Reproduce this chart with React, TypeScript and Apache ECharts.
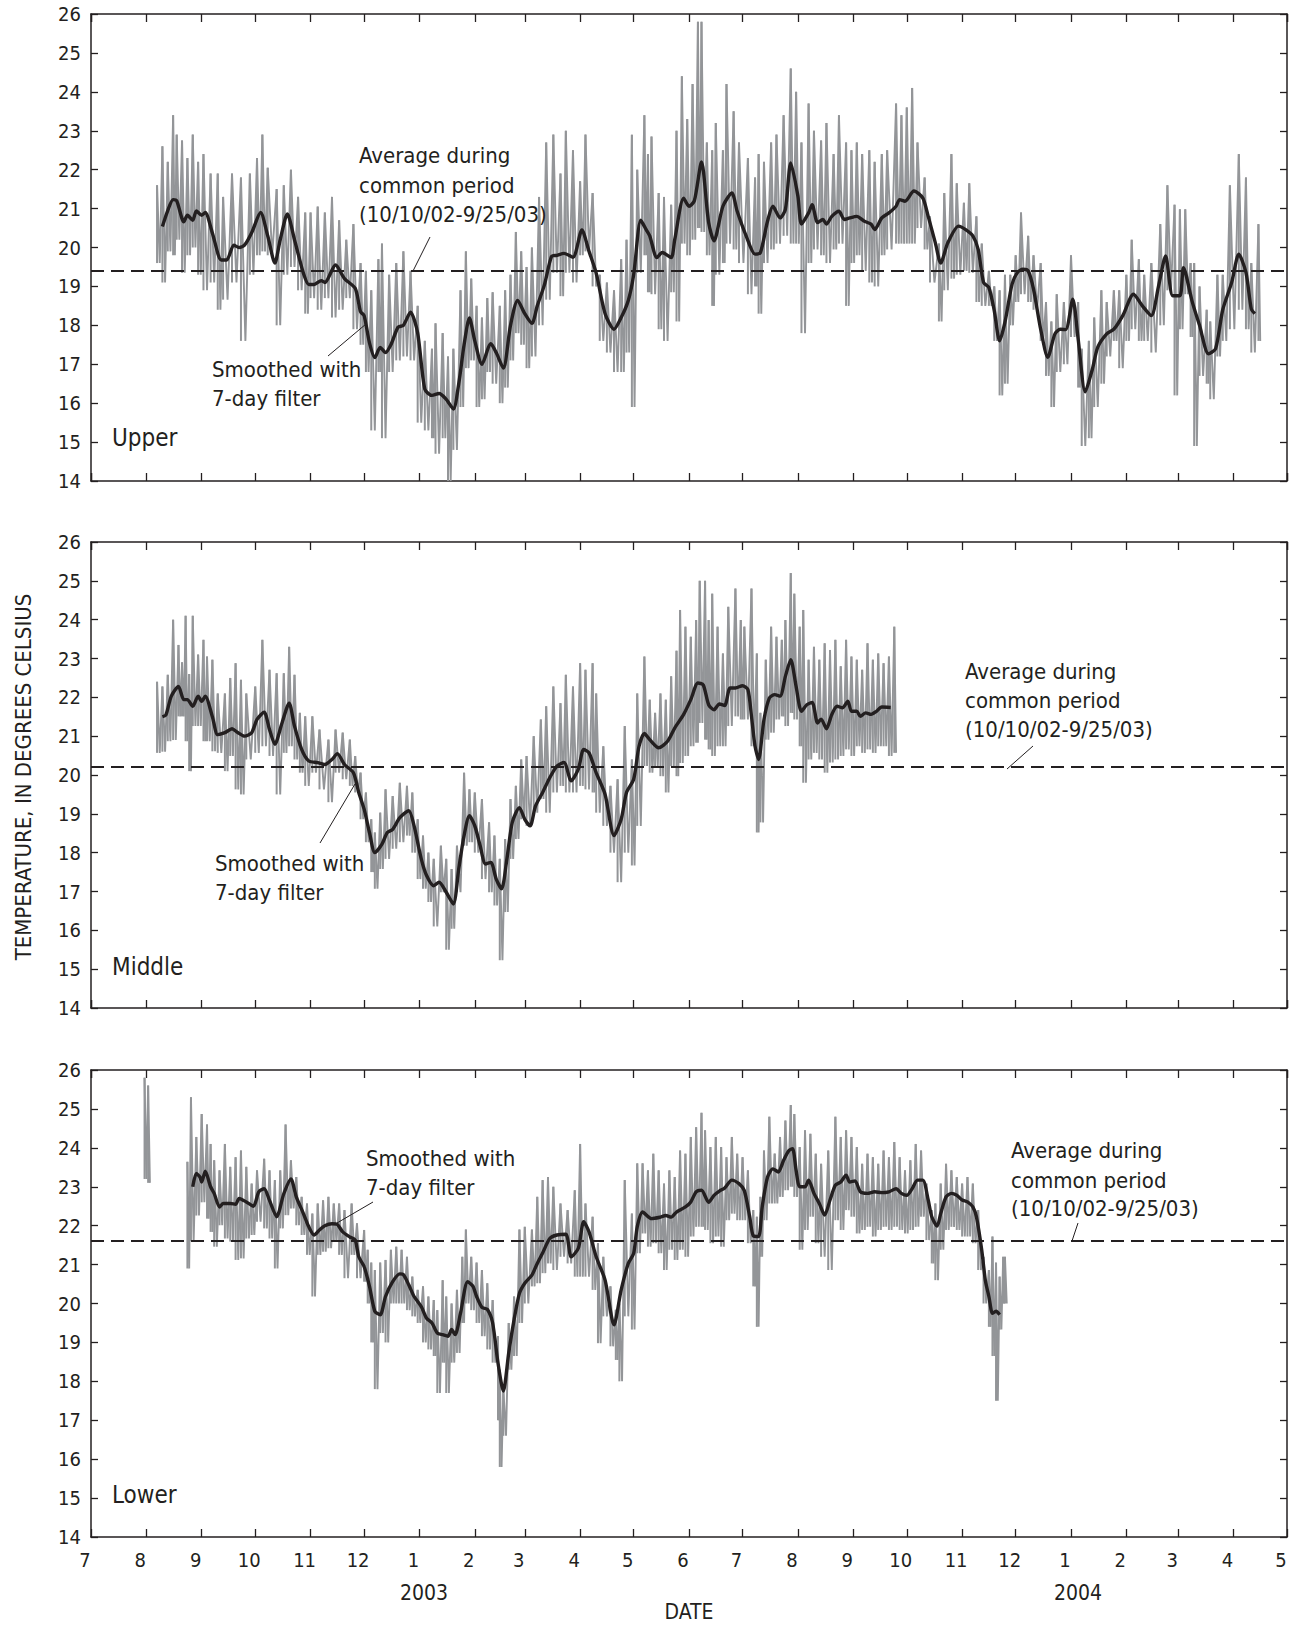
import React, { useEffect, useRef } from "react";
import * as echarts from "echarts";

const FONT = '"Liberation Sans Narrow", "DejaVu Sans Condensed", "Arial Narrow", sans-serif';
const X_MIN = "2002-07-01";
const X_MAX = "2004-05-01";
const Y_MIN = 14;
const Y_MAX = 26;
const Y_STEP = 1;

const panelNames = ["Upper", "Middle", "Lower"];
const averages = [19.4, 20.2, 21.6];
const yearLabels = ["2003", "2004"];

// ---------- Upper ----------
const upperSmooth: [string, number][] = [
  ["2002-08-10", 20.54], ["2002-08-13", 20.95], ["2002-08-16", 21.23], ["2002-08-18", 21.2], ["2002-08-22", 20.66],
  ["2002-08-24", 20.83], ["2002-08-27", 20.7], ["2002-08-29", 20.94], ["2002-09-01", 20.83], ["2002-09-03", 20.9],
  ["2002-09-07", 20.37], ["2002-09-12", 19.68], ["2002-09-15", 19.68], ["2002-09-19", 20.06], ["2002-09-22", 20.0],
  ["2002-09-25", 20.06], ["2002-09-29", 20.38], ["2002-10-04", 20.9], ["2002-10-08", 20.3], ["2002-10-12", 19.6],
  ["2002-10-15", 20.2], ["2002-10-19", 20.86], ["2002-10-23", 20.2], ["2002-10-28", 19.34], ["2002-10-31", 19.05],
  ["2002-11-03", 19.05], ["2002-11-07", 19.15], ["2002-11-09", 19.1], ["2002-11-15", 19.55], ["2002-11-20", 19.2],
  ["2002-11-26", 18.95], ["2002-11-29", 18.35], ["2002-12-01", 18.25], ["2002-12-04", 17.55], ["2002-12-07", 17.17],
  ["2002-12-10", 17.43], ["2002-12-13", 17.3], ["2002-12-16", 17.5], ["2002-12-20", 17.95], ["2002-12-23", 18.0],
  ["2002-12-27", 18.34], ["2002-12-31", 17.8], ["2003-01-04", 16.36], ["2003-01-08", 16.2], ["2003-01-12", 16.25],
  ["2003-01-16", 16.1], ["2003-01-20", 15.85], ["2003-01-23", 16.5], ["2003-01-26", 17.5], ["2003-01-29", 18.19],
  ["2003-02-01", 17.6], ["2003-02-05", 17.0], ["2003-02-10", 17.53], ["2003-02-13", 17.3], ["2003-02-17", 16.9],
  ["2003-02-21", 18.0], ["2003-02-25", 18.64], ["2003-03-01", 18.3], ["2003-03-05", 18.05], ["2003-03-08", 18.5],
  ["2003-03-12", 19.04], ["2003-03-16", 19.77], ["2003-03-19", 19.8], ["2003-03-23", 19.85], ["2003-03-28", 19.75],
  ["2003-04-02", 20.45], ["2003-04-06", 19.9], ["2003-04-10", 19.34], ["2003-04-15", 18.3], ["2003-04-20", 17.9],
  ["2003-04-24", 18.2], ["2003-04-28", 18.64], ["2003-05-01", 19.3], ["2003-05-05", 20.7], ["2003-05-08", 20.46],
  ["2003-05-10", 20.3], ["2003-05-14", 19.74], ["2003-05-17", 19.87], ["2003-05-22", 19.74], ["2003-05-24", 20.2],
  ["2003-05-29", 21.27], ["2003-06-01", 21.06], ["2003-06-04", 21.2], ["2003-06-08", 22.2], ["2003-06-12", 20.64],
  ["2003-06-15", 20.17], ["2003-06-20", 21.06], ["2003-06-25", 21.4], ["2003-06-28", 20.93], ["2003-07-03", 20.3],
  ["2003-07-08", 19.83], ["2003-07-11", 19.87], ["2003-07-15", 20.68], ["2003-07-18", 21.06], ["2003-07-22", 20.76],
  ["2003-07-25", 20.98], ["2003-07-28", 22.17], ["2003-08-01", 21.32], ["2003-08-03", 20.6], ["2003-08-07", 20.89],
  ["2003-08-09", 21.1], ["2003-08-12", 20.64], ["2003-08-15", 20.72], ["2003-08-17", 20.6], ["2003-08-20", 20.8],
  ["2003-08-24", 20.93], ["2003-08-27", 20.72], ["2003-08-30", 20.76], ["2003-09-03", 20.8], ["2003-09-07", 20.68],
  ["2003-09-11", 20.6], ["2003-09-13", 20.46], ["2003-09-17", 20.76], ["2003-09-21", 20.89], ["2003-09-25", 21.06],
  ["2003-09-27", 21.23], ["2003-09-30", 21.19], ["2003-10-05", 21.45], ["2003-10-10", 21.27], ["2003-10-13", 20.8],
  ["2003-10-17", 20.12], ["2003-10-20", 19.6], ["2003-10-24", 20.12], ["2003-10-30", 20.55], ["2003-11-03", 20.46],
  ["2003-11-07", 20.3], ["2003-11-10", 19.95], ["2003-11-13", 19.1], ["2003-11-16", 18.97], ["2003-11-19", 18.38],
  ["2003-11-22", 17.6], ["2003-11-25", 18.08], ["2003-11-29", 19.06], ["2003-12-02", 19.36], ["2003-12-05", 19.44],
  ["2003-12-08", 19.4], ["2003-12-11", 18.93], ["2003-12-15", 17.9], ["2003-12-19", 17.18], ["2003-12-23", 17.78],
  ["2003-12-26", 17.9], ["2003-12-29", 17.89], ["2004-01-02", 18.67], ["2004-01-05", 17.65], ["2004-01-09", 16.29],
  ["2004-01-13", 16.88], ["2004-01-16", 17.44], ["2004-01-21", 17.78], ["2004-01-25", 17.9], ["2004-01-30", 18.25],
  ["2004-02-05", 18.8], ["2004-02-10", 18.5], ["2004-02-15", 18.25], ["2004-02-19", 19.0], ["2004-02-23", 19.78],
  ["2004-02-27", 18.76], ["2004-03-02", 18.76], ["2004-03-04", 19.48], ["2004-03-09", 18.59], ["2004-03-13", 18.0],
  ["2004-03-18", 17.27], ["2004-03-22", 17.4], ["2004-03-26", 18.4], ["2004-03-31", 19.1], ["2004-04-04", 19.83],
  ["2004-04-08", 19.36], ["2004-04-11", 18.42], ["2004-04-13", 18.3],
];

// [date, daily-range high, daily-range low]
const upperRaw: [string, number, number][] = [
  ["2002-08-07", 21.6, 19.6], ["2002-08-10", 22.6, 19.1], ["2002-08-13", 22.2, 19.9], ["2002-08-16", 23.4, 19.8],
  ["2002-08-18", 22.9, 20.2], ["2002-08-21", 22.75, 19.35], ["2002-08-24", 22.3, 19.8], ["2002-08-27", 22.9, 20.0],
  ["2002-08-30", 22.2, 19.3], ["2002-09-02", 22.4, 18.9], ["2002-09-06", 21.9, 19.1], ["2002-09-10", 21.9, 18.4],
  ["2002-09-13", 21.3, 18.66], ["2002-09-18", 21.9, 19.1], ["2002-09-23", 21.8, 17.6], ["2002-09-28", 21.9, 19.3],
  ["2002-10-02", 22.3, 19.8], ["2002-10-05", 22.9, 19.9], ["2002-10-08", 22.05, 19.8], ["2002-10-13", 21.5, 18.0],
  ["2002-10-17", 21.6, 19.3], ["2002-10-21", 22.0, 19.5], ["2002-10-25", 21.3, 18.9], ["2002-10-29", 20.9, 18.3],
  ["2002-11-01", 20.9, 18.7], ["2002-11-05", 21.05, 18.4], ["2002-11-09", 20.9, 18.7], ["2002-11-13", 21.3, 18.2],
  ["2002-11-17", 20.7, 18.4], ["2002-11-21", 20.2, 18.7], ["2002-11-25", 20.6, 17.9], ["2002-11-29", 19.6, 17.5],
  ["2002-12-02", 19.4, 16.8], ["2002-12-05", 18.9, 15.3], ["2002-12-09", 19.7, 16.8], ["2002-12-11", 20.1, 15.1],
  ["2002-12-15", 19.3, 16.8], ["2002-12-19", 19.6, 17.1], ["2002-12-23", 19.9, 17.2], ["2002-12-27", 19.4, 17.1],
  ["2002-12-31", 18.5, 15.5], ["2003-01-04", 17.6, 15.3], ["2003-01-08", 17.4, 15.1], ["2003-01-10", 18.05, 14.7],
  ["2003-01-14", 17.8, 15.1], ["2003-01-17", 17.2, 14.0], ["2003-01-20", 17.4, 14.8], ["2003-01-24", 18.9, 15.9],
  ["2003-01-27", 19.9, 16.9], ["2003-01-30", 19.2, 17.1], ["2003-02-02", 18.5, 15.9], ["2003-02-05", 18.2, 16.1],
  ["2003-02-08", 18.7, 16.8], ["2003-02-11", 18.85, 16.5], ["2003-02-15", 18.5, 16.0], ["2003-02-18", 18.9, 16.4],
  ["2003-02-21", 19.3, 17.1], ["2003-02-24", 20.4, 17.8], ["2003-02-27", 19.9, 17.5], ["2003-03-02", 19.5, 16.9],
  ["2003-03-05", 20.0, 17.2], ["2003-03-09", 21.3, 18.0], ["2003-03-13", 22.7, 18.66], ["2003-03-17", 22.9, 19.35],
  ["2003-03-21", 21.9, 18.75], ["2003-03-24", 23.0, 19.35], ["2003-03-28", 22.5, 19.1], ["2003-04-01", 21.7, 19.8],
  ["2003-04-04", 22.9, 19.9], ["2003-04-08", 21.4, 19.0], ["2003-04-12", 19.3, 17.6], ["2003-04-16", 19.1, 17.3],
  ["2003-04-20", 18.9, 16.8], ["2003-04-24", 19.7, 16.8], ["2003-04-27", 20.2, 17.3], ["2003-04-30", 22.9, 15.9],
  ["2003-05-03", 22.0, 19.35], ["2003-05-07", 23.4, 19.8], ["2003-05-09", 22.4, 18.85], ["2003-05-11", 22.85, 18.8],
  ["2003-05-15", 21.4, 17.9], ["2003-05-18", 21.3, 17.6], ["2003-05-22", 21.1, 18.85], ["2003-05-25", 23.0, 18.1],
  ["2003-05-28", 24.4, 20.1], ["2003-05-31", 23.3, 19.8], ["2003-06-03", 24.2, 20.2], ["2003-06-06", 25.8, 20.5],
  ["2003-06-08", 25.8, 20.4], ["2003-06-11", 22.7, 19.8], ["2003-06-14", 22.5, 18.5], ["2003-06-16", 23.2, 19.3],
  ["2003-06-20", 22.5, 19.6], ["2003-06-22", 24.2, 20.1], ["2003-06-26", 23.5, 19.95], ["2003-06-29", 22.7, 19.6],
  ["2003-07-04", 22.3, 18.8], ["2003-07-08", 21.8, 19.0], ["2003-07-10", 22.4, 18.3], ["2003-07-13", 22.2, 19.6],
  ["2003-07-17", 22.7, 19.95], ["2003-07-20", 22.9, 20.1], ["2003-07-24", 23.4, 20.3], ["2003-07-28", 24.6, 20.1],
  ["2003-07-31", 24.0, 20.1], ["2003-08-03", 22.7, 17.8], ["2003-08-07", 23.7, 19.6], ["2003-08-10", 23.0, 19.95],
  ["2003-08-14", 22.75, 19.8], ["2003-08-17", 23.2, 19.6], ["2003-08-21", 22.4, 19.95], ["2003-08-24", 23.4, 20.1],
  ["2003-08-28", 22.7, 18.5], ["2003-08-31", 22.5, 19.6], ["2003-09-03", 22.7, 19.8], ["2003-09-06", 22.4, 19.4],
  ["2003-09-10", 22.5, 19.1], ["2003-09-13", 22.2, 19.0], ["2003-09-17", 22.4, 19.8], ["2003-09-20", 22.5, 19.95],
  ["2003-09-25", 23.7, 20.1], ["2003-09-28", 23.4, 20.1], ["2003-10-01", 23.6, 20.1], ["2003-10-04", 24.1, 20.1],
  ["2003-10-07", 22.7, 20.5], ["2003-10-11", 21.8, 19.95], ["2003-10-14", 20.8, 19.1], ["2003-10-19", 20.1, 18.1],
  ["2003-10-22", 21.4, 18.9], ["2003-10-26", 22.4, 19.2], ["2003-10-29", 21.65, 19.3], ["2003-11-02", 21.15, 19.4],
  ["2003-11-05", 21.65, 19.35], ["2003-11-09", 20.8, 18.6], ["2003-11-12", 20.1, 18.5], ["2003-11-16", 19.4, 18.5],
  ["2003-11-19", 19.0, 17.6], ["2003-11-22", 18.9, 16.2], ["2003-11-25", 19.3, 16.5], ["2003-11-28", 19.3, 18.0],
  ["2003-12-01", 19.8, 18.6], ["2003-12-04", 20.9, 18.8], ["2003-12-08", 20.3, 18.6], ["2003-12-11", 19.8, 18.4],
  ["2003-12-15", 19.6, 17.6], ["2003-12-18", 18.6, 16.7], ["2003-12-21", 18.1, 15.9], ["2003-12-24", 18.8, 16.8],
  ["2003-12-28", 18.6, 17.0], ["2004-01-01", 19.8, 17.7], ["2004-01-05", 18.6, 16.4], ["2004-01-07", 17.4, 14.9],
  ["2004-01-11", 17.6, 15.1], ["2004-01-14", 18.2, 15.9], ["2004-01-18", 18.9, 16.5], ["2004-01-21", 18.6, 17.2],
  ["2004-01-25", 18.9, 17.6], ["2004-01-28", 18.9, 16.9], ["2004-02-01", 19.3, 17.6], ["2004-02-04", 20.2, 17.9],
  ["2004-02-08", 19.7, 17.6], ["2004-02-11", 19.3, 17.6], ["2004-02-15", 19.6, 17.3], ["2004-02-20", 20.6, 18.0],
  ["2004-02-24", 21.6, 18.9], ["2004-02-28", 21.1, 16.2], ["2004-03-02", 20.98, 17.9], ["2004-03-05", 20.98, 18.8],
  ["2004-03-08", 19.6, 17.7], ["2004-03-10", 19.6, 14.9], ["2004-03-13", 19.0, 16.7], ["2004-03-17", 18.4, 16.5],
  ["2004-03-19", 18.1, 16.1], ["2004-03-23", 19.3, 17.2], ["2004-03-26", 19.3, 17.6], ["2004-03-30", 21.6, 17.9],
  ["2004-04-04", 22.4, 18.4], ["2004-04-08", 21.8, 17.9], ["2004-04-11", 19.6, 17.3], ["2004-04-15", 20.6, 17.6],
];

// ---------- Middle ----------
const middleSmooth: [string, number][] = [
  ["2002-08-10", 21.5], ["2002-08-12", 21.55], ["2002-08-15", 22.03], ["2002-08-19", 22.28], ["2002-08-22", 21.94],
  ["2002-08-24", 21.94], ["2002-08-27", 21.77], ["2002-08-30", 22.03], ["2002-09-01", 21.9], ["2002-09-03", 22.03],
  ["2002-09-07", 21.5], ["2002-09-10", 21.04], ["2002-09-14", 21.09], ["2002-09-18", 21.19], ["2002-09-21", 21.1],
  ["2002-09-25", 21.0], ["2002-09-29", 21.09], ["2002-10-02", 21.43], ["2002-10-06", 21.62], ["2002-10-09", 21.17],
  ["2002-10-12", 20.79], ["2002-10-16", 21.34], ["2002-10-20", 21.85], ["2002-10-23", 21.26], ["2002-10-27", 20.66],
  ["2002-10-31", 20.36], ["2002-11-05", 20.32], ["2002-11-09", 20.27], ["2002-11-13", 20.4], ["2002-11-16", 20.55],
  ["2002-11-20", 20.27], ["2002-11-25", 20.06], ["2002-11-28", 19.55], ["2002-12-01", 19.12], ["2002-12-04", 18.52],
  ["2002-12-07", 18.0], ["2002-12-11", 18.22], ["2002-12-14", 18.52], ["2002-12-17", 18.6], ["2002-12-21", 18.9],
  ["2002-12-26", 19.08], ["2002-12-29", 18.69], ["2003-01-02", 17.84], ["2003-01-05", 17.41], ["2003-01-09", 17.15],
  ["2003-01-12", 17.24], ["2003-01-16", 16.98], ["2003-01-20", 16.68], ["2003-01-23", 17.58], ["2003-01-26", 18.44],
  ["2003-01-29", 18.95], ["2003-02-01", 18.69], ["2003-02-04", 18.18], ["2003-02-07", 17.71], ["2003-02-10", 17.75],
  ["2003-02-13", 17.32], ["2003-02-16", 17.07], ["2003-02-19", 17.84], ["2003-02-22", 18.78], ["2003-02-26", 19.16],
  ["2003-03-01", 18.86], ["2003-03-04", 18.69], ["2003-03-07", 19.2], ["2003-03-11", 19.55], ["2003-03-15", 19.93],
  ["2003-03-19", 20.23], ["2003-03-23", 20.32], ["2003-03-27", 19.85], ["2003-03-31", 20.15], ["2003-04-03", 20.66],
  ["2003-04-06", 20.57], ["2003-04-10", 20.06], ["2003-04-15", 19.5], ["2003-04-20", 18.44], ["2003-04-24", 18.86],
  ["2003-04-27", 19.55], ["2003-05-01", 19.89], ["2003-05-04", 20.74], ["2003-05-07", 21.07], ["2003-05-10", 20.91],
  ["2003-05-15", 20.7], ["2003-05-20", 20.87], ["2003-05-24", 21.21], ["2003-05-29", 21.56], ["2003-06-02", 21.94],
  ["2003-06-06", 22.37], ["2003-06-09", 22.32], ["2003-06-12", 21.81], ["2003-06-15", 21.68], ["2003-06-18", 21.83],
  ["2003-06-21", 21.79], ["2003-06-24", 22.24], ["2003-06-27", 22.24], ["2003-07-01", 22.3], ["2003-07-04", 22.2],
  ["2003-07-06", 21.51], ["2003-07-08", 20.74], ["2003-07-10", 20.4], ["2003-07-13", 21.43], ["2003-07-16", 21.98],
  ["2003-07-19", 22.07], ["2003-07-22", 22.03], ["2003-07-25", 22.54], ["2003-07-28", 22.97], ["2003-07-31", 22.28],
  ["2003-08-03", 21.64], ["2003-08-06", 21.81], ["2003-08-09", 21.87], ["2003-08-12", 21.34], ["2003-08-14", 21.44],
  ["2003-08-17", 21.19], ["2003-08-20", 21.56], ["2003-08-23", 21.77], ["2003-08-26", 21.73], ["2003-08-29", 21.9],
  ["2003-08-31", 21.64], ["2003-09-03", 21.64], ["2003-09-05", 21.51], ["2003-09-08", 21.6], ["2003-09-11", 21.56],
  ["2003-09-14", 21.64], ["2003-09-17", 21.75], ["2003-09-22", 21.74],
];

const middleRaw: [string, number, number][] = [
  ["2002-08-07", 22.4, 20.57], ["2002-08-10", 22.28, 20.6], ["2002-08-13", 22.58, 20.87], ["2002-08-16", 24.0, 20.9],
  ["2002-08-19", 23.35, 21.51], ["2002-08-21", 22.9, 21.51], ["2002-08-23", 24.1, 20.87], ["2002-08-25", 22.6, 20.1],
  ["2002-08-27", 24.1, 21.26], ["2002-08-30", 23.1, 21.26], ["2002-09-02", 23.48, 20.87], ["2002-09-04", 23.05, 20.87],
  ["2002-09-07", 22.97, 20.61], ["2002-09-10", 22.1, 20.57], ["2002-09-14", 22.1, 20.1], ["2002-09-17", 22.5, 20.49],
  ["2002-09-20", 22.88, 19.63], ["2002-09-23", 22.45, 19.5], ["2002-09-26", 22.1, 20.4], ["2002-10-01", 22.28, 20.57],
  ["2002-10-05", 23.48, 20.74], ["2002-10-09", 22.71, 20.49], ["2002-10-13", 22.62, 19.5], ["2002-10-17", 22.62, 20.57],
  ["2002-10-20", 23.3, 20.74], ["2002-10-23", 22.58, 20.4], ["2002-10-26", 21.6, 20.06], ["2002-10-29", 21.51, 19.72],
  ["2002-11-02", 21.51, 20.06], ["2002-11-06", 21.17, 19.63], ["2002-11-11", 20.91, 19.3], ["2002-11-15", 21.17, 20.06],
  ["2002-11-19", 21.09, 19.89], ["2002-11-23", 20.91, 19.72], ["2002-11-26", 20.49, 19.55], ["2002-11-29", 20.06, 18.86],
  ["2002-12-02", 19.55, 18.27], ["2002-12-05", 18.86, 17.5], ["2002-12-07", 18.52, 17.07], ["2002-12-10", 19.03, 17.58],
  ["2002-12-13", 19.63, 17.84], ["2002-12-17", 19.46, 18.1], ["2002-12-21", 19.8, 18.27], ["2002-12-25", 19.72, 18.44],
  ["2002-12-28", 19.55, 18.0], ["2002-12-31", 18.86, 17.32], ["2003-01-03", 18.44, 17.07], ["2003-01-06", 18.0, 16.73],
  ["2003-01-09", 17.84, 16.1], ["2003-01-13", 18.18, 16.98], ["2003-01-16", 17.84, 15.5], ["2003-01-19", 17.58, 16.04],
  ["2003-01-22", 18.18, 16.98], ["2003-01-26", 20.06, 18.18], ["2003-01-29", 19.63, 18.27], ["2003-02-01", 19.55, 18.0],
  ["2003-02-05", 19.38, 17.32], ["2003-02-09", 18.78, 16.98], ["2003-02-12", 18.44, 16.64], ["2003-02-15", 17.84, 15.23],
  ["2003-02-18", 18.35, 16.47], ["2003-02-21", 19.38, 17.84], ["2003-02-24", 19.72, 18.35], ["2003-02-27", 20.4, 18.86],
  ["2003-03-02", 20.49, 18.69], ["2003-03-06", 21.0, 19.03], ["2003-03-10", 21.43, 19.38], ["2003-03-13", 21.77, 19.03],
  ["2003-03-17", 22.28, 19.55], ["2003-03-21", 21.85, 19.72], ["2003-03-24", 22.58, 19.55], ["2003-03-28", 22.28, 19.55],
  ["2003-04-01", 22.88, 19.72], ["2003-04-04", 22.71, 19.63], ["2003-04-08", 22.88, 19.55], ["2003-04-10", 22.1, 19.03],
  ["2003-04-14", 20.74, 18.69], ["2003-04-18", 19.72, 18.0], ["2003-04-22", 19.89, 17.24], ["2003-04-26", 21.26, 18.0],
  ["2003-04-30", 20.4, 17.67], ["2003-05-03", 22.1, 18.69], ["2003-05-07", 23.05, 20.23], ["2003-05-10", 21.94, 20.06],
  ["2003-05-13", 21.6, 20.23], ["2003-05-16", 22.1, 19.97], ["2003-05-19", 21.94, 19.55], ["2003-05-22", 22.54, 20.23],
  ["2003-05-25", 23.2, 19.97], ["2003-05-27", 24.25, 20.31], ["2003-05-30", 23.82, 20.49], ["2003-06-02", 23.56, 20.74],
  ["2003-06-05", 23.99, 20.83], ["2003-06-07", 25.0, 21.34], ["2003-06-10", 25.0, 20.91], ["2003-06-12", 23.99, 20.66],
  ["2003-06-14", 24.67, 20.49], ["2003-06-17", 23.82, 20.74], ["2003-06-20", 23.13, 20.74], ["2003-06-23", 24.33, 21.26],
  ["2003-06-27", 24.8, 21.51], ["2003-06-30", 23.99, 21.43], ["2003-07-02", 23.82, 21.43], ["2003-07-06", 24.8, 20.74],
  ["2003-07-09", 23.13, 18.52], ["2003-07-11", 21.6, 18.78], ["2003-07-14", 22.97, 20.91], ["2003-07-17", 23.82, 21.09],
  ["2003-07-20", 23.56, 21.43], ["2003-07-23", 23.48, 21.51], ["2003-07-25", 23.99, 21.26], ["2003-07-28", 25.2, 21.6],
  ["2003-07-30", 24.67, 21.43], ["2003-08-02", 23.82, 20.74], ["2003-08-04", 24.25, 19.8], ["2003-08-07", 22.97, 20.4],
  ["2003-08-10", 23.3, 20.57], ["2003-08-13", 22.97, 20.4], ["2003-08-16", 23.39, 20.06], ["2003-08-19", 23.22, 20.32],
  ["2003-08-22", 23.48, 20.4], ["2003-08-25", 22.8, 20.49], ["2003-08-28", 23.48, 20.66], ["2003-08-31", 23.05, 20.49],
  ["2003-09-03", 22.97, 20.74], ["2003-09-06", 22.71, 20.57], ["2003-09-09", 23.39, 20.66], ["2003-09-12", 22.97, 20.57],
  ["2003-09-15", 23.13, 20.74], ["2003-09-18", 22.88, 20.74], ["2003-09-21", 23.05, 20.49], ["2003-09-24", 23.82, 20.57],
];

// ---------- Lower ----------
const lowerSmooth: [string, number][] = [
  ["2002-08-27", 23.0], ["2002-08-29", 23.34], ["2002-08-31", 23.25], ["2002-09-01", 23.12], ["2002-09-03", 23.4],
  ["2002-09-06", 23.0], ["2002-09-08", 22.83], ["2002-09-11", 22.48], ["2002-09-13", 22.57], ["2002-09-17", 22.57],
  ["2002-09-20", 22.55], ["2002-09-22", 22.7], ["2002-09-26", 22.61], ["2002-09-30", 22.5], ["2002-10-03", 22.87],
  ["2002-10-06", 22.95], ["2002-10-09", 22.65], ["2002-10-13", 22.23], ["2002-10-17", 22.82], ["2002-10-21", 23.2],
  ["2002-10-24", 22.74], ["2002-10-28", 22.31], ["2002-10-31", 21.97], ["2002-11-03", 21.76], ["2002-11-06", 21.89],
  ["2002-11-09", 22.0], ["2002-11-13", 22.05], ["2002-11-16", 22.03], ["2002-11-19", 21.84], ["2002-11-23", 21.71],
  ["2002-11-26", 21.63], ["2002-11-28", 21.2], ["2002-12-01", 20.95], ["2002-12-04", 20.44], ["2002-12-07", 19.8],
  ["2002-12-10", 19.71], ["2002-12-13", 20.18], ["2002-12-17", 20.56], ["2002-12-21", 20.76], ["2002-12-23", 20.74],
  ["2002-12-26", 20.48], ["2002-12-29", 20.18], ["2003-01-02", 19.92], ["2003-01-05", 19.62], ["2003-01-08", 19.5],
  ["2003-01-11", 19.24], ["2003-01-14", 19.2], ["2003-01-17", 19.16], ["2003-01-19", 19.33], ["2003-01-21", 19.2],
  ["2003-01-24", 19.75], ["2003-01-28", 20.56], ["2003-01-31", 20.44], ["2003-02-02", 20.18], ["2003-02-05", 19.9],
  ["2003-02-08", 19.85], ["2003-02-11", 19.5], ["2003-02-14", 18.47], ["2003-02-17", 17.75], ["2003-02-20", 18.73],
  ["2003-02-23", 19.58], ["2003-02-26", 20.26], ["2003-03-01", 20.52], ["2003-03-05", 20.73], ["2003-03-08", 21.03],
  ["2003-03-11", 21.3], ["2003-03-15", 21.67], ["2003-03-19", 21.76], ["2003-03-24", 21.78], ["2003-03-27", 21.2],
  ["2003-03-31", 21.42], ["2003-04-03", 22.1], ["2003-04-06", 21.84], ["2003-04-10", 21.2], ["2003-04-15", 20.6],
  ["2003-04-20", 19.45], ["2003-04-24", 20.35], ["2003-04-28", 21.03], ["2003-05-01", 21.29], ["2003-05-03", 21.97],
  ["2003-05-06", 22.35], ["2003-05-11", 22.18], ["2003-05-16", 22.22], ["2003-05-19", 22.26], ["2003-05-22", 22.22],
  ["2003-05-25", 22.35], ["2003-05-30", 22.48], ["2003-06-02", 22.61], ["2003-06-05", 22.87], ["2003-06-08", 22.91],
  ["2003-06-12", 22.6], ["2003-06-15", 22.78], ["2003-06-18", 22.89], ["2003-06-21", 22.97], ["2003-06-25", 23.17],
  ["2003-06-29", 23.08], ["2003-07-02", 22.9], ["2003-07-05", 22.23], ["2003-07-07", 21.74], ["2003-07-10", 21.72],
  ["2003-07-12", 22.48], ["2003-07-15", 23.25], ["2003-07-18", 23.46], ["2003-07-21", 23.38], ["2003-07-24", 23.68],
  ["2003-07-27", 23.93], ["2003-07-29", 23.98], ["2003-07-31", 23.42], ["2003-08-02", 23.0], ["2003-08-05", 23.0],
  ["2003-08-07", 23.17], ["2003-08-10", 22.83], ["2003-08-13", 22.57], ["2003-08-16", 22.27], ["2003-08-19", 22.66],
  ["2003-08-22", 23.04], ["2003-08-25", 23.12], ["2003-08-28", 23.3], ["2003-08-30", 23.12], ["2003-09-02", 23.15],
  ["2003-09-05", 22.87], ["2003-09-09", 22.83], ["2003-09-13", 22.87], ["2003-09-17", 22.85], ["2003-09-21", 22.87],
  ["2003-09-25", 22.95], ["2003-09-28", 22.83], ["2003-10-01", 22.78], ["2003-10-04", 22.95], ["2003-10-07", 23.17],
  ["2003-10-10", 23.17], ["2003-10-13", 22.66], ["2003-10-15", 22.23], ["2003-10-18", 21.99], ["2003-10-20", 22.31],
  ["2003-10-23", 22.74], ["2003-10-26", 22.83], ["2003-10-29", 22.78], ["2003-11-01", 22.66], ["2003-11-04", 22.61],
  ["2003-11-07", 22.48], ["2003-11-09", 22.23], ["2003-11-12", 21.37], ["2003-11-14", 20.6], ["2003-11-16", 20.18],
  ["2003-11-18", 19.75], ["2003-11-20", 19.8], ["2003-11-22", 19.71],
];

const lowerRawEarly: [string, number, number][] = [
  ["2002-07-31", 25.8, 23.2], ["2002-08-02", 25.6, 23.1],
];

const lowerRaw: [string, number, number][] = [
  ["2002-08-24", 23.64, 20.9], ["2002-08-26", 25.3, 21.6], ["2002-08-29", 24.28, 22.26], ["2002-09-01", 24.87, 22.6],
  ["2002-09-04", 24.6, 22.18], ["2002-09-06", 24.1, 21.84], ["2002-09-08", 23.68, 21.46], ["2002-09-11", 23.42, 22.01],
  ["2002-09-14", 24.1, 21.67], ["2002-09-17", 23.51, 21.59], ["2002-09-20", 23.76, 21.12], ["2002-09-23", 23.93, 21.16],
  ["2002-09-26", 23.51, 21.67], ["2002-09-29", 23.08, 21.76], ["2002-10-02", 23.42, 22.1], ["2002-10-06", 23.72, 21.93],
  ["2002-10-09", 23.42, 21.67], ["2002-10-12", 23.17, 20.9], ["2002-10-15", 23.42, 21.93], ["2002-10-18", 24.6, 22.27],
  ["2002-10-21", 23.68, 22.44], ["2002-10-24", 23.25, 22.01], ["2002-10-27", 22.74, 21.76], ["2002-10-30", 22.57, 21.25],
  ["2002-11-02", 22.31, 20.18], ["2002-11-05", 22.57, 21.25], ["2002-11-08", 22.65, 21.33], ["2002-11-11", 22.74, 21.42],
  ["2002-11-14", 22.57, 21.59], ["2002-11-17", 22.57, 21.25], ["2002-11-20", 22.4, 20.65], ["2002-11-24", 22.57, 21.25],
  ["2002-11-27", 22.06, 20.65], ["2002-12-01", 21.89, 20.56], ["2002-12-03", 21.38, 20.0], ["2002-12-05", 21.05, 19.0],
  ["2002-12-07", 20.86, 17.8], ["2002-12-10", 21.05, 19.24], ["2002-12-13", 21.12, 19.0], ["2002-12-16", 21.38, 20.0],
  ["2002-12-19", 21.46, 20.0], ["2002-12-22", 21.38, 20.0], ["2002-12-25", 21.2, 19.83], ["2002-12-28", 20.69, 19.67],
  ["2002-12-31", 20.35, 19.5], ["2003-01-03", 20.44, 19.0], ["2003-01-06", 20.18, 18.82], ["2003-01-09", 20.09, 18.65],
  ["2003-01-11", 19.83, 17.7], ["2003-01-14", 20.6, 18.48], ["2003-01-16", 20.18, 17.7], ["2003-01-19", 20.0, 18.48],
  ["2003-01-22", 20.35, 18.73], ["2003-01-25", 21.2, 19.5], ["2003-01-27", 21.9, 20.0], ["2003-01-30", 21.2, 19.83],
  ["2003-02-02", 21.05, 19.5], ["2003-02-05", 20.86, 19.16], ["2003-02-08", 20.52, 18.82], ["2003-02-11", 20.09, 18.48],
  ["2003-02-14", 19.16, 17.0], ["2003-02-15", 18.3, 15.8], ["2003-02-17", 17.8, 16.6], ["2003-02-20", 19.5, 18.3],
  ["2003-02-23", 20.18, 18.65], ["2003-02-26", 21.9, 19.5], ["2003-03-01", 21.97, 20.0], ["2003-03-05", 21.9, 20.44],
  ["2003-03-08", 22.74, 20.52], ["2003-03-11", 23.17, 20.78], ["2003-03-14", 23.25, 21.03], ["2003-03-17", 23.0, 20.86],
  ["2003-03-21", 22.57, 21.2], ["2003-03-25", 22.4, 21.03], ["2003-03-29", 22.91, 20.69], ["2003-04-01", 24.1, 20.69],
  ["2003-04-04", 22.57, 20.69], ["2003-04-08", 22.23, 20.35], ["2003-04-11", 21.55, 18.98], ["2003-04-14", 21.2, 19.67],
  ["2003-04-18", 20.44, 18.9], ["2003-04-21", 19.84, 18.55], ["2003-04-23", 20.0, 18.0], ["2003-04-26", 23.17, 19.67],
  ["2003-04-30", 22.31, 19.33], ["2003-05-03", 23.6, 21.29], ["2003-05-06", 23.6, 21.8], ["2003-05-09", 23.42, 21.46],
  ["2003-05-12", 23.85, 21.55], ["2003-05-15", 23.42, 21.29], ["2003-05-18", 23.08, 20.86], ["2003-05-21", 23.42, 21.38],
  ["2003-05-24", 23.25, 21.12], ["2003-05-27", 23.93, 21.38], ["2003-05-30", 23.85, 21.2], ["2003-06-02", 24.28, 21.72],
  ["2003-06-05", 24.53, 21.97], ["2003-06-08", 24.9, 21.97], ["2003-06-10", 24.45, 21.89], ["2003-06-13", 24.02, 21.55],
  ["2003-06-16", 24.28, 21.72], ["2003-06-19", 24.02, 21.46], ["2003-06-22", 23.76, 22.14], ["2003-06-25", 24.28, 22.31],
  ["2003-06-28", 23.85, 22.14], ["2003-07-01", 23.76, 22.14], ["2003-07-04", 23.42, 21.55], ["2003-07-07", 22.4, 20.44],
  ["2003-07-09", 22.23, 19.4], ["2003-07-11", 22.74, 21.2], ["2003-07-13", 23.93, 22.14], ["2003-07-16", 24.8, 22.57],
  ["2003-07-19", 23.85, 22.57], ["2003-07-22", 24.28, 22.74], ["2003-07-25", 24.7, 22.91], ["2003-07-28", 25.1, 23.0],
  ["2003-07-30", 24.87, 22.74], ["2003-08-02", 24.02, 21.38], ["2003-08-05", 24.45, 21.89], ["2003-08-08", 24.36, 22.23],
  ["2003-08-11", 23.85, 21.55], ["2003-08-14", 23.59, 21.2], ["2003-08-18", 23.93, 20.86], ["2003-08-22", 24.8, 22.14],
  ["2003-08-25", 24.28, 21.89], ["2003-08-28", 24.45, 22.4], ["2003-08-31", 24.28, 22.23], ["2003-09-03", 24.02, 21.8],
  ["2003-09-06", 23.59, 21.89], ["2003-09-09", 23.85, 21.97], ["2003-09-12", 23.76, 21.72], ["2003-09-15", 23.59, 21.89],
  ["2003-09-18", 23.93, 21.97], ["2003-09-21", 23.76, 21.89], ["2003-09-24", 24.15, 21.97], ["2003-09-27", 23.76, 21.89],
  ["2003-09-30", 23.42, 21.8], ["2003-10-03", 23.68, 21.89], ["2003-10-06", 24.1, 21.97], ["2003-10-09", 23.93, 22.23],
  ["2003-10-12", 23.08, 21.63], ["2003-10-15", 22.4, 21.03], ["2003-10-17", 22.57, 20.6], ["2003-10-20", 23.08, 21.38],
  ["2003-10-23", 23.59, 21.89], ["2003-10-26", 23.42, 21.97], ["2003-10-29", 23.25, 21.89], ["2003-11-01", 23.08, 21.72],
  ["2003-11-04", 23.25, 21.72], ["2003-11-07", 23.08, 21.55], ["2003-11-10", 22.4, 20.86], ["2003-11-13", 21.2, 20.0],
  ["2003-11-16", 20.86, 19.4], ["2003-11-18", 21.72, 18.65], ["2003-11-20", 21.05, 17.5], ["2003-11-22", 20.69, 19.33],
  ["2003-11-24", 21.2, 20.0], ["2003-11-25", 21.2, 20.0],
];

const DAY = 86400000;
const ts = (s: string) => {
  const [y, m, d] = s.split("-").map(Number);
  return new Date(y, m - 1, d).getTime();
};

// Each reading's high and low are drawn as one up/down stroke of the gray trace.
function rawTrace(segments: [string, number, number][][]) {
  const out: any[] = [];
  segments.forEach((seg, si) => {
    if (si > 0) out.push([ts(seg[0][0]) - DAY, "-"]);
    seg.forEach((r, i) => {
      const t0 = ts(r[0]);
      const t1 = i < seg.length - 1 ? ts(seg[i + 1][0]) : t0 + 2 * DAY;
      out.push([t0, r[1]]);
      out.push([(t0 + t1) / 2, r[2]]);
    });
  });
  return out;
}
// Each reading also drawn as a vertical range (low..high) at its date.
const rawRanges = (segments: [string, number, number][][]) =>
  segments.flat().map(([d, hi, lo]) => [ts(d), hi, lo]);
const smoothTrace = (arr: [string, number][]) => arr.map(([d, v]) => [ts(d), v]);

const AXIS = "#231f20";
const GRAY = "#939598";

export default function App() {
  const ref = useRef<HTMLDivElement>(null);
  useEffect(() => {
    if (!ref.current) return;
    const chart = echarts.init(ref.current, undefined, { renderer: "svg" });
    const grids = [
      { left: 91, top: 14, width: 1196, height: 467 },
      { left: 91, top: 542, width: 1196, height: 466 },
      { left: 91, top: 1070, width: 1196, height: 467 },
    ].map((g) => ({ ...g, containLabel: false, outerBoundsMode: "none" }));

    const xAxes: any[] = [];
    const yAxes: any[] = [];
    for (let i = 0; i < 3; i++) {
      const baseX = {
        type: "time",
        gridIndex: i,
        min: ts(X_MIN),
        max: ts(X_MAX),
        splitNumber: 22,
        minInterval: 28 * DAY,
        maxInterval: 31 * DAY,
        axisLine: { show: true, onZero: false, lineStyle: { color: AXIS, width: 1.5 } },
        axisTick: { show: true, inside: true, length: 8, lineStyle: { color: AXIS, width: 1.3 } },
        splitLine: { show: false },
        minorTick: { show: false },
      };
      xAxes.push({
        ...baseX,
        position: "bottom",
        axisLabel: {
          show: i === 2,
          formatter: (v: number) => String(new Date(v).getMonth() + 1),
          color: AXIS,
          fontFamily: FONT,
          fontSize: 20,
          margin: 13,
          padding: [0, 12, 0, 0],
          showMinLabel: true,
          showMaxLabel: true,
        },
      });
      xAxes.push({ ...baseX, position: "top", axisLabel: { show: false } });
      const baseY = {
        type: "value",
        gridIndex: i,
        min: Y_MIN,
        max: Y_MAX,
        interval: Y_STEP,
        axisLine: { show: true, onZero: false, lineStyle: { color: AXIS, width: 1.5 } },
        axisTick: { show: true, inside: true, length: 7, lineStyle: { color: AXIS, width: 1.3 } },
        splitLine: { show: false },
      };
      yAxes.push({
        ...baseY,
        position: "left",
        axisLabel: { color: AXIS, fontFamily: FONT, fontSize: 20, margin: 10 },
      });
      yAxes.push({ ...baseY, position: "right", axisLabel: { show: false } });
    }

    const segs = [[upperRaw], [middleRaw], [lowerRawEarly, lowerRaw]];
    const smoothSets = [smoothTrace(upperSmooth), smoothTrace(middleSmooth), smoothTrace(lowerSmooth)];

    const series: any[] = [];
    for (let i = 0; i < 3; i++) {
      series.push({
        name: panelNames[i] + " range",
        type: "custom",
        xAxisIndex: 2 * i,
        yAxisIndex: 2 * i,
        data: rawRanges(segs[i]),
        encode: { x: 0, y: [1, 2] },
        silent: true,
        z: 2,
        renderItem: (_p: any, api: any) => {
          const top = api.coord([api.value(0), api.value(1)]);
          const bot = api.coord([api.value(0), api.value(2)]);
          return {
            type: "rect",
            shape: { x: top[0] - 1, y: top[1], width: 2, height: bot[1] - top[1] },
            style: { fill: GRAY },
          };
        },
      });
      series.push({
        name: panelNames[i] + " hourly",
        type: "line",
        xAxisIndex: 2 * i,
        yAxisIndex: 2 * i,
        data: rawTrace(segs[i]),
        showSymbol: false,
        connectNulls: false,
        lineStyle: { color: GRAY, width: 1.9, join: "miter", miterLimit: 4 },
        z: 2,
      });
      series.push({
        name: panelNames[i] + " smoothed",
        type: "line",
        xAxisIndex: 2 * i,
        yAxisIndex: 2 * i,
        data: smoothSets[i],
        showSymbol: false,
        smooth: 0.25,
        lineStyle: { color: AXIS, width: 3.4 },
        z: 4,
        markLine: {
          silent: true,
          symbol: ["none", "none"],
          label: { show: false },
          lineStyle: { color: AXIS, width: 1.8, type: [13, 7] },
          data: [{ yAxis: averages[i] }],
        },
      });
    }

    const txt = (text: string, x: number, y: number, size: number, align = "left", rotation = 0) => ({
      type: "text",
      x,
      y,
      rotation,
      z: 10,
      style: {
        text,
        fill: AXIS,
        font: `${size}px ${FONT}`,
        textAlign: align,
        textVerticalAlign: "middle",
        align,
        verticalAlign: "middle",
      },
    });
    const leader = (x1: number, y1: number, x2: number, y2: number) => ({
      type: "line",
      z: 10,
      shape: { x1, y1, x2, y2 },
      style: { stroke: AXIS, lineWidth: 1 },
    });

    const avgLines = ["Average during", "common period", "(10/10/02-9/25/03)"];
    const smLines = ["Smoothed with", "7-day filter"];
    const A = 22;
    const graphic: any[] = [
      txt(panelNames[0], 112, 438, 24),
      txt(panelNames[1], 112, 967, 24),
      txt(panelNames[2], 112, 1495, 24),
      txt(avgLines[0], 359, 155, A), txt(avgLines[1], 359, 185, A), txt(avgLines[2], 359, 214, A),
      leader(430, 237, 413, 271),
      txt(smLines[0], 212, 369, A), txt(smLines[1], 212, 398, A),
      leader(328, 356, 366, 324),
      txt(avgLines[0], 965, 671, A), txt(avgLines[1], 965, 700, A), txt(avgLines[2], 965, 729, A),
      leader(1033, 746, 1007, 769),
      txt(smLines[0], 215, 863, A), txt(smLines[1], 215, 892, A),
      leader(320, 843, 355, 784),
      txt(smLines[0], 366, 1158, A), txt(smLines[1], 366, 1187, A),
      leader(373, 1202, 337, 1223),
      txt(avgLines[0], 1011, 1150, A), txt(avgLines[1], 1011, 1180, A), txt(avgLines[2], 1011, 1208, A),
      leader(1078, 1223, 1072, 1241),
      txt(yearLabels[0], 424, 1593, 21, "center"),
      txt(yearLabels[1], 1078, 1593, 21, "center"),
      txt("DATE", 689, 1612, 21, "center"),
      txt("TEMPERATURE, IN DEGREES CELSIUS", 23, 777, 22, "center", Math.PI / 2),
    ];

    chart.setOption({
      animation: false,
      backgroundColor: "#ffffff",
      grid: grids,
      xAxis: xAxes,
      yAxis: yAxes,
      series,
      graphic,
    });
    return () => chart.dispose();
  }, []);

  return (
    <div
      ref={ref}
      style={{ position: "absolute", left: 0, top: 0, width: 1291, height: 1629, background: "#fff" }}
    />
  );
}
